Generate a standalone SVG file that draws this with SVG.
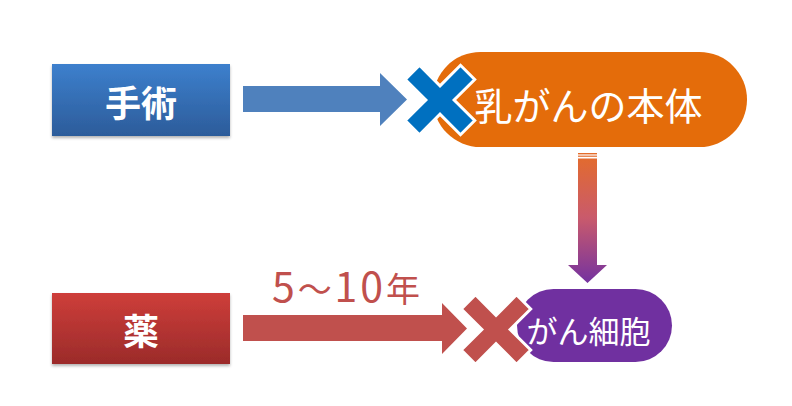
<svg xmlns="http://www.w3.org/2000/svg" width="792" height="406" viewBox="0 0 792 406">
<style>
.lbl{font-family:"Noto Sans CJK JP","Noto Sans",sans-serif;fill:#ffffff;text-anchor:middle;dominant-baseline:central}
.b{font-weight:700}
.xb{fill:#0070c0;stroke:#ffffff;stroke-width:3;stroke-linejoin:miter}
.xr{fill:#c0504d;stroke:#ffffff;stroke-width:3;stroke-linejoin:miter}
</style>
<defs>
<linearGradient id="gBlue" x1="0" y1="0" x2="0" y2="1">
<stop offset="0" stop-color="#3d80cd"/><stop offset="1" stop-color="#2c5c9a"/>
</linearGradient>
<linearGradient id="gRed" x1="0" y1="0" x2="0" y2="1">
<stop offset="0" stop-color="#ce3e3a"/><stop offset="1" stop-color="#9b2b2a"/>
</linearGradient>
<linearGradient id="gDown" x1="0" y1="153" x2="0" y2="283" gradientUnits="userSpaceOnUse">
<stop offset="0" stop-color="#e46c2a"/><stop offset="0.5" stop-color="#c95a6c"/><stop offset="1" stop-color="#7432a0"/>
</linearGradient>
<filter id="sh" x="-10%" y="-10%" width="120%" height="130%">
<feDropShadow dx="0" dy="2" stdDeviation="1.5" flood-color="#000000" flood-opacity="0.3"/>
</filter>
<path id="xs" d="M0,-14.1 L20.5,-34.7 L34.7,-20.5 L14.1,0 L34.7,20.5 L20.5,34.7 L0,14.1 L-20.5,34.7 L-34.7,20.5 L-14.1,0 L-34.7,-20.5 L-20.5,-34.7 Z"/>
</defs>
<rect width="792" height="406" fill="#ffffff"/>

<g id="connectors">
<polygon id="arrow-surgery" points="243,86 380,86 380,73 407,99.5 380,126 380,112 243,112" fill="#4f81bd"/>
<polygon id="arrow-drug" points="243,315 442,315 442,303 467,328.5 442,354 442,341 243,341" fill="#c0504d"/>
<g id="arrow-down" fill="url(#gDown)">
<rect x="578" y="153" width="19" height="1.4"/>
<rect x="578" y="155.6" width="19" height="1.2"/>
<polygon points="578,158.5 597,158.5 597,265 607,265 587.5,283 568,265 578,265"/>
</g>
<text id="label-years" x="272" y="302" font-family="'Noto Sans CJK JP','Noto Sans',sans-serif" fill="#c0504d" textLength="148" lengthAdjust="spacing"><tspan font-size="41">5</tspan><tspan font-size="34">〜</tspan><tspan font-size="41">10</tspan><tspan font-size="34">年</tspan></text>
</g>

<g id="node-surgery">
<rect x="52" y="64" width="178" height="72" fill="url(#gBlue)" filter="url(#sh)"/>
<text class="lbl b" x="141" y="101" font-size="36">手術</text>
</g>

<g id="node-drug">
<rect x="52" y="293" width="178" height="71" fill="url(#gRed)" filter="url(#sh)"/>
<text class="lbl b" x="141" y="329" font-size="36">薬</text>
</g>

<g id="node-tumor">
<rect x="433" y="52" width="314" height="95" rx="47.5" fill="#e46c0a"/>
<use href="#xs" class="xb" transform="translate(440,100)"/>
<text class="lbl" x="588.5" y="103" font-size="38">乳がんの本体</text>
</g>

<g id="node-cells">
<rect x="517" y="289" width="155" height="73" rx="36.5" fill="#7030a0"/>
<use href="#xs" class="xr" transform="translate(496,329.5)"/>
<text class="lbl" x="588.5" y="329" font-size="31">がん細胞</text>
</g>
</svg>
